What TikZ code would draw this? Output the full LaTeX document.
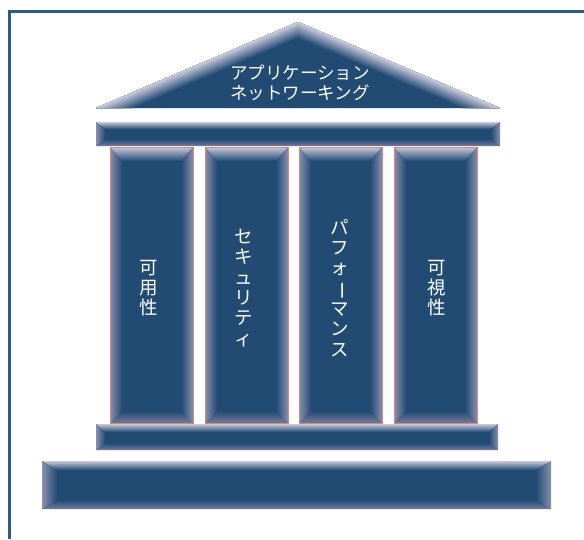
\documentclass[tikz,border=0pt]{standalone}
\usepackage{graphicx}
\usepackage{fontspec}
\newfontfamily\cjk{Noto Sans CJK JP}
\definecolor{core}{HTML}{224B74}
\definecolor{edgeT}{HTML}{C8C8DA}
\definecolor{edgeS}{HTML}{8890AE}
\definecolor{edgeB}{HTML}{737C9C}
\definecolor{frameblue}{HTML}{2C5985}
\definecolor{salmon}{HTML}{E38470}
% #1 x1, #2 y1, #3 x2, #4 y2, #5 side bevel, #6 top bevel, #7 bottom bevel
\newcommand{\bevelbox}[7]{%
  \fill[core] (#1,#2) rectangle (#3,#4);
  \shade[top color=edgeT, bottom color=core] (#1,#2) -- (#3,#2) -- (#3-#5,#2+#6) -- (#1+#5,#2+#6) -- cycle;
  \shade[top color=core, bottom color=edgeB] (#1,#4) -- (#3,#4) -- (#3-#5,#4-#7) -- (#1+#5,#4-#7) -- cycle;
  \shade[left color=edgeS, right color=core] (#1,#2) -- (#1+#5,#2+#6) -- (#1+#5,#4-#7) -- (#1,#4) -- cycle;
  \shade[left color=core, right color=edgeS] (#3,#2) -- (#3-#5,#2+#6) -- (#3-#5,#4-#7) -- (#3,#4) -- cycle;
}
\tikzset{
  lbl/.style={text=white, font=\cjk\fontsize{18.5}{20.3}\selectfont, align=center, inner sep=0pt},
  rooflbl/.style={text=white, font=\cjk\fontsize{17.5}{20}\selectfont, align=center, inner sep=0pt},
  colborder/.style={draw=salmon, line width=1pt},
}
\begin{document}
\begin{tikzpicture}[x=1pt,y=-1pt]
\useasboundingbox (0,0) rectangle (584,539);
% frame
\draw[frameblue, line width=3pt] (9,539) -- (9,11) -- (584,11);
% roof
\begin{scope}
  \clip (96,108) -- (298,22) -- (500,108) -- cycle;
  \fill[core] (96,108) -- (298,22) -- (500,108) -- cycle;
  \foreach \i in {0,...,12} {
    \pgfmathtruncatemacro\p{\i*100/12}
    \pgfmathsetmacro\w{(13-\i)*2.4}
    \draw[line width=\w pt, color=edgeT!\p!core, line join=miter] (96,108) -- (298,22) -- (500,108);
  }
\end{scope}
\node[rooflbl] (roof) at (300,83) {アプリケーション\\ネットワーキング};
% entablature
\bevelbox{96}{122}{500}{146}{9}{7}{7}
% columns
\bevelbox{110}{147}{193}{423}{12}{14}{12}
\bevelbox{205}{147}{288}{423}{12}{14}{12}
\bevelbox{299}{147}{382}{423}{12}{14}{12}
\bevelbox{394}{147}{477}{423}{12}{14}{12}
\draw[colborder] (110,147) rectangle (193,423);
\draw[colborder] (205,147) rectangle (288,423);
\draw[colborder] (299,147) rectangle (382,423);
\draw[colborder] (394,147) rectangle (477,423);
\node[lbl] (c1) at (149,288) {可\\用\\性};
\node[lbl] (c2) at (244,288) {セ\\キ\\ュ\\リ\\テ\\ィ};
\node[lbl] (c3) at (340,288) {パ\\フ\\ォ\\\rotatebox[origin=c]{-90}{ー}\\マ\\ン\\ス};
\node[lbl] (c4) at (437,288) {可\\視\\性};
% base steps
\bevelbox{96}{424}{498}{450}{9}{8}{7}
\bevelbox{42}{461}{551}{509}{15}{9}{9}
\end{tikzpicture}
\end{document}
